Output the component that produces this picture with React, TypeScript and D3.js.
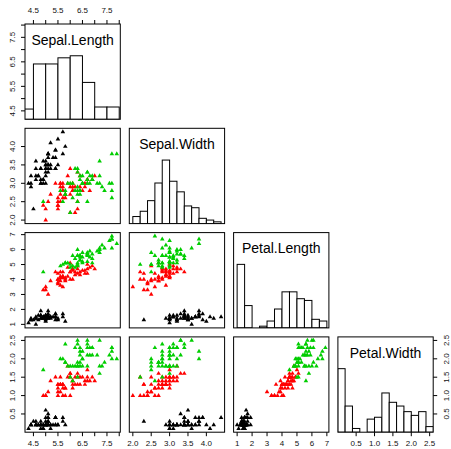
import React from "react";
import * as d3 from "d3";

// iris data, in the original row order
const varNames = ["Sepal.Length", "Sepal.Width", "Petal.Length", "Petal.Width"];

const sepalLength = [
  5.1, 4.9, 4.7, 4.6, 5.0, 5.4, 4.6, 5.0, 4.4, 4.9, 5.4, 4.8, 4.8, 4.3, 5.8, 5.7, 5.4, 5.1, 5.7, 5.1,
  5.4, 5.1, 4.6, 5.1, 4.8, 5.0, 5.0, 5.2, 5.2, 4.7, 4.8, 5.4, 5.2, 5.5, 4.9, 5.0, 5.5, 4.9, 4.4, 5.1,
  5.0, 4.5, 4.4, 5.0, 5.1, 4.8, 5.1, 4.6, 5.3, 5.0,
  7.0, 6.4, 6.9, 5.5, 6.5, 5.7, 6.3, 4.9, 6.6, 5.2, 5.0, 5.9, 6.0, 6.1, 5.6, 6.7, 5.6, 5.8, 6.2, 5.6,
  5.9, 6.1, 6.3, 6.1, 6.4, 6.6, 6.8, 6.7, 6.0, 5.7, 5.5, 5.5, 5.8, 6.0, 5.4, 6.0, 6.7, 6.3, 5.6, 5.5,
  5.5, 6.1, 5.8, 5.0, 5.6, 5.7, 5.7, 6.2, 5.1, 5.7,
  6.3, 5.8, 7.1, 6.3, 6.5, 7.6, 4.9, 7.3, 6.7, 7.2, 6.5, 6.4, 6.8, 5.7, 5.8, 6.4, 6.5, 7.7, 7.7, 6.0,
  6.9, 5.6, 7.7, 6.3, 6.7, 7.2, 6.2, 6.1, 6.4, 7.2, 7.4, 7.9, 6.4, 6.3, 6.1, 7.7, 6.3, 6.4, 6.0, 6.9,
  6.7, 6.9, 5.8, 6.8, 6.7, 6.7, 6.3, 6.5, 6.2, 5.9,
];

const sepalWidth = [
  3.5, 3.0, 3.2, 3.1, 3.6, 3.9, 3.4, 3.4, 2.9, 3.1, 3.7, 3.4, 3.0, 3.0, 4.0, 4.4, 3.9, 3.5, 3.8, 3.8,
  3.4, 3.7, 3.6, 3.3, 3.4, 3.0, 3.4, 3.5, 3.4, 3.2, 3.1, 3.4, 4.1, 4.2, 3.1, 3.2, 3.5, 3.6, 3.0, 3.4,
  3.5, 2.3, 3.2, 3.5, 3.8, 3.0, 3.8, 3.2, 3.7, 3.3,
  3.2, 3.2, 3.1, 2.3, 2.8, 2.8, 3.3, 2.4, 2.9, 2.7, 2.0, 3.0, 2.2, 2.9, 2.9, 3.1, 3.0, 2.7, 2.2, 2.5,
  3.2, 2.8, 2.5, 2.8, 2.9, 3.0, 2.8, 3.0, 2.9, 2.6, 2.4, 2.4, 2.7, 2.7, 3.0, 3.4, 3.1, 2.3, 3.0, 2.5,
  2.6, 3.0, 2.6, 2.3, 2.7, 3.0, 2.9, 2.9, 2.5, 2.8,
  3.3, 2.7, 3.0, 2.9, 3.0, 3.0, 2.5, 2.9, 2.5, 3.6, 3.2, 2.7, 3.0, 2.5, 2.8, 3.2, 3.0, 3.8, 2.6, 2.2,
  3.2, 2.8, 2.8, 2.7, 3.3, 3.2, 2.8, 3.0, 2.8, 3.0, 2.8, 3.8, 2.8, 2.8, 2.6, 3.0, 3.4, 3.1, 3.0, 3.1,
  3.1, 3.1, 2.7, 3.2, 3.3, 3.0, 2.5, 3.0, 3.4, 3.0,
];

const petalLength = [
  1.4, 1.4, 1.3, 1.5, 1.4, 1.7, 1.4, 1.5, 1.4, 1.5, 1.5, 1.6, 1.4, 1.1, 1.2, 1.5, 1.3, 1.4, 1.7, 1.5,
  1.7, 1.5, 1.0, 1.7, 1.9, 1.6, 1.6, 1.5, 1.4, 1.6, 1.6, 1.5, 1.5, 1.4, 1.5, 1.2, 1.3, 1.4, 1.3, 1.5,
  1.3, 1.3, 1.3, 1.6, 1.9, 1.4, 1.6, 1.4, 1.5, 1.4,
  4.7, 4.5, 4.9, 4.0, 4.6, 4.5, 4.7, 3.3, 4.6, 3.9, 3.5, 4.2, 4.0, 4.7, 3.6, 4.4, 4.5, 4.1, 4.5, 3.9,
  4.8, 4.0, 4.9, 4.7, 4.3, 4.4, 4.8, 5.0, 4.5, 3.5, 3.8, 3.7, 3.9, 5.1, 4.5, 4.5, 4.7, 4.4, 4.1, 4.0,
  4.4, 4.6, 4.0, 3.3, 4.2, 4.2, 4.2, 4.3, 3.0, 4.1,
  6.0, 5.1, 5.9, 5.6, 5.8, 6.6, 4.5, 6.3, 5.8, 6.1, 5.1, 5.3, 5.5, 5.0, 5.1, 5.3, 5.5, 6.7, 6.9, 5.0,
  5.7, 4.9, 6.7, 4.9, 5.7, 6.0, 4.8, 4.9, 5.6, 5.8, 6.1, 6.4, 5.6, 5.1, 5.6, 6.1, 5.6, 5.5, 4.8, 5.4,
  5.6, 5.1, 5.1, 5.9, 5.7, 5.2, 5.0, 5.2, 5.4, 5.1,
];

const petalWidth = [
  0.2, 0.2, 0.2, 0.2, 0.2, 0.4, 0.3, 0.2, 0.2, 0.1, 0.2, 0.2, 0.1, 0.1, 0.2, 0.4, 0.4, 0.3, 0.3, 0.3,
  0.2, 0.4, 0.2, 0.5, 0.2, 0.2, 0.4, 0.2, 0.2, 0.2, 0.2, 0.4, 0.1, 0.2, 0.2, 0.2, 0.2, 0.1, 0.2, 0.2,
  0.3, 0.3, 0.2, 0.6, 0.4, 0.3, 0.2, 0.2, 0.2, 0.2,
  1.4, 1.5, 1.5, 1.3, 1.5, 1.3, 1.6, 1.0, 1.3, 1.4, 1.0, 1.5, 1.0, 1.4, 1.3, 1.4, 1.5, 1.0, 1.5, 1.1,
  1.8, 1.3, 1.5, 1.2, 1.3, 1.4, 1.4, 1.7, 1.5, 1.0, 1.1, 1.0, 1.2, 1.6, 1.5, 1.6, 1.5, 1.3, 1.3, 1.3,
  1.2, 1.4, 1.2, 1.0, 1.3, 1.2, 1.3, 1.3, 1.1, 1.3,
  2.5, 1.9, 2.1, 1.8, 2.2, 2.1, 1.7, 1.8, 1.8, 2.5, 2.0, 1.9, 2.1, 2.0, 2.4, 2.3, 1.8, 2.2, 2.3, 1.5,
  2.3, 2.0, 2.0, 1.8, 2.1, 1.8, 1.8, 1.8, 2.1, 1.6, 1.9, 2.0, 2.2, 1.5, 1.4, 2.3, 2.4, 1.8, 1.8, 2.1,
  2.4, 2.3, 1.9, 2.3, 2.5, 2.3, 1.9, 2.0, 2.3, 1.8,
];

// 0 = setosa, 1 = versicolor, 2 = virginica
const species = [
  0, 0, 0, 0, 0, 0, 0, 0, 0, 0, 0, 0, 0, 0, 0, 0, 0, 0, 0, 0, 0, 0, 0, 0, 0,
  0, 0, 0, 0, 0, 0, 0, 0, 0, 0, 0, 0, 0, 0, 0, 0, 0, 0, 0, 0, 0, 0, 0, 0, 0,
  1, 1, 1, 1, 1, 1, 1, 1, 1, 1, 1, 1, 1, 1, 1, 1, 1, 1, 1, 1, 1, 1, 1, 1, 1,
  1, 1, 1, 1, 1, 1, 1, 1, 1, 1, 1, 1, 1, 1, 1, 1, 1, 1, 1, 1, 1, 1, 1, 1, 1,
  2, 2, 2, 2, 2, 2, 2, 2, 2, 2, 2, 2, 2, 2, 2, 2, 2, 2, 2, 2, 2, 2, 2, 2, 2,
  2, 2, 2, 2, 2, 2, 2, 2, 2, 2, 2, 2, 2, 2, 2, 2, 2, 2, 2, 2, 2, 2, 2, 2, 2,
];
const speciesColors = ["#000000", "#FF0000", "#00CD00"];

// histogram breaks (right-closed bins)
const histBreaks = [
  [4.0, 4.5, 5.0, 5.5, 6.0, 6.5, 7.0, 7.5, 8.0],
  [2.0, 2.2, 2.4, 2.6, 2.8, 3.0, 3.2, 3.4, 3.6, 3.8, 4.0, 4.2, 4.4],
  [1.0, 1.5, 2.0, 2.5, 3.0, 3.5, 4.0, 4.5, 5.0, 5.5, 6.0, 6.5, 7.0],
  [0.0, 0.2, 0.4, 0.6, 0.8, 1.0, 1.2, 1.4, 1.6, 1.8, 2.0, 2.2, 2.4, 2.6],
];

const axisTicks = [
  [4.5, 5.0, 5.5, 6.0, 6.5, 7.0, 7.5, 8.0],
  [2.0, 2.5, 3.0, 3.5, 4.0],
  [1, 2, 3, 4, 5, 6, 7],
  [0.5, 1.0, 1.5, 2.0, 2.5],
];
const axisLabels = [
  ["4.5", "", "5.5", "", "6.5", "", "7.5", ""],
  ["2.0", "2.5", "3.0", "3.5", "4.0"],
  ["1", "2", "3", "4", "5", "6", "7"],
  ["0.5", "1.0", "1.5", "2.0", "2.5"],
];

const columns = [sepalLength, sepalWidth, petalLength, petalWidth];

const W = 451;
const H = 449;
const left0 = 25;
const top0 = 24;
const size = 95.3;
const pitch = 104.3;
const tickLen = 4;
const font = "'Liberation Sans', Arial, Helvetica, sans-serif";

function panelX(j: number) {
  return left0 + j * pitch;
}
function panelY(i: number) {
  return top0 + i * pitch;
}

// R style 4% range extension
function paddedDomain(v: number[]): [number, number] {
  const [lo, hi] = d3.extent(v) as [number, number];
  const pad = (hi - lo) * 0.04;
  return [lo - pad, hi + pad];
}

function histCounts(v: number[], breaks: number[]) {
  const counts = breaks.slice(1).map(() => 0);
  v.forEach((x) => {
    for (let b = 0; b < counts.length; b++) {
      const inBin = b === 0 ? x >= breaks[0] && x <= breaks[1] : x > breaks[b] && x <= breaks[b + 1];
      if (inBin) {
        counts[b]++;
        break;
      }
    }
  });
  return counts;
}

function triangle(x: number, y: number) {
  const R = 1.7;
  const r = 1.5551 * R;
  const xc = 1.3468 * R;
  const yc = 0.7776 * R;
  return `M${x},${y - r}L${x + xc},${y + yc}L${x - xc},${y + yc}Z`;
}

export default function App() {
  const n = varNames.length;

  const xScales = columns.map((v, j) =>
    d3.scaleLinear().domain(paddedDomain(v)).range([panelX(j), panelX(j) + size])
  );
  const yScales = columns.map((v, i) =>
    d3.scaleLinear().domain(paddedDomain(v)).range([panelY(i) + size, panelY(i)])
  );

  const panels: React.ReactNode[] = [];

  for (let i = 0; i < n; i++) {
    for (let j = 0; j <= i; j++) {
      const x0 = panelX(j);
      const y0 = panelY(i);
      const clipId = `clip-${i}-${j}`;
      let content: React.ReactNode;

      if (i === j) {
        const breaks = histBreaks[i];
        const counts = histCounts(columns[i], breaks);
        const maxC = d3.max(counts) as number;
        const hy = d3.scaleLinear().domain([0, 1.5]).range([y0 + size, y0]);
        const xs = xScales[j];
        content = (
          <g>
            <g clipPath={`url(#${clipId})`}>
              {counts.map((c, b) => (
                <rect
                  key={b}
                  x={xs(breaks[b])}
                  y={hy(c / maxC)}
                  width={xs(breaks[b + 1]) - xs(breaks[b])}
                  height={hy(0) - hy(c / maxC)}
                  fill="white"
                  stroke="black"
                  strokeWidth={1}
                />
              ))}
            </g>
            <text
              x={x0 + size / 2}
              y={y0 + size - size * (5 / 6)}
              textAnchor="middle"
              dominantBaseline="central"
              fontSize={14}
              fontFamily={font}
              fill="black"
            >
              {varNames[i]}
            </text>
          </g>
        );
      } else {
        const xs = xScales[j];
        const ys = yScales[i];
        content = (
          <g clipPath={`url(#${clipId})`}>
            {columns[j].map((xv, k) => (
              <path key={k} d={triangle(xs(xv), ys(columns[i][k]))} fill={speciesColors[species[k]]} />
            ))}
          </g>
        );
      }

      panels.push(
        <g key={`${i}-${j}`}>
          <clipPath id={clipId}>
            <rect x={x0} y={y0} width={size} height={size} />
          </clipPath>
          {content}
          <rect x={x0} y={y0} width={size} height={size} fill="none" stroke="black" strokeWidth={1} />
        </g>
      );
    }
  }

  const axes: React.ReactNode[] = [];
  const labelStyle = { fontSize: 8, fontFamily: font, fill: "#111" };

  // bottom axes, one per column
  for (let j = 0; j < n; j++) {
    const yb = panelY(n - 1) + size;
    axisTicks[j].forEach((t, k) => {
      const x = xScales[j](t);
      axes.push(<line key={`b${j}-${k}`} x1={x} x2={x} y1={yb} y2={yb + tickLen} stroke="black" />);
      if (axisLabels[j][k])
        axes.push(
          <text key={`bl${j}-${k}`} x={x} y={yb + 11.5} textAnchor="middle" dominantBaseline="central" style={labelStyle}>
            {axisLabels[j][k]}
          </text>
        );
    });
  }

  // left axes, one per row
  for (let i = 0; i < n; i++) {
    const xl = panelX(0);
    axisTicks[i].forEach((t, k) => {
      const y = yScales[i](t);
      axes.push(<line key={`l${i}-${k}`} x1={xl - tickLen} x2={xl} y1={y} y2={y} stroke="black" />);
      if (axisLabels[i][k])
        axes.push(
          <text
            key={`ll${i}-${k}`}
            transform={`translate(${xl - 12.5},${y}) rotate(-90)`}
            textAnchor="middle"
            dominantBaseline="central"
            style={labelStyle}
          >
            {axisLabels[i][k]}
          </text>
        );
    });
  }

  // top axis over the first column
  {
    const yt = panelY(0);
    axisTicks[0].forEach((t, k) => {
      const x = xScales[0](t);
      axes.push(<line key={`t-${k}`} x1={x} x2={x} y1={yt - tickLen} y2={yt} stroke="black" />);
      if (axisLabels[0][k])
        axes.push(
          <text key={`tl-${k}`} x={x} y={yt - 13.5} textAnchor="middle" dominantBaseline="central" style={labelStyle}>
            {axisLabels[0][k]}
          </text>
        );
    });
  }

  // right axis beside the last row
  {
    const xr = panelX(n - 1) + size;
    axisTicks[n - 1].forEach((t, k) => {
      const y = yScales[n - 1](t);
      axes.push(<line key={`r-${k}`} x1={xr} x2={xr + tickLen} y1={y} y2={y} stroke="black" />);
      if (axisLabels[n - 1][k])
        axes.push(
          <text
            key={`rl-${k}`}
            transform={`translate(${xr + 13.5},${y}) rotate(-90)`}
            textAnchor="middle"
            dominantBaseline="central"
            style={labelStyle}
          >
            {axisLabels[n - 1][k]}
          </text>
        );
    });
  }

  return (
    <svg
      width={W}
      height={H}
      viewBox={`0 0 ${W} ${H}`}
      style={{ position: "absolute", left: 0, top: 0, background: "white" }}
    >
      <rect x={0} y={0} width={W} height={H} fill="white" />
      {panels}
      {axes}
    </svg>
  );
}
